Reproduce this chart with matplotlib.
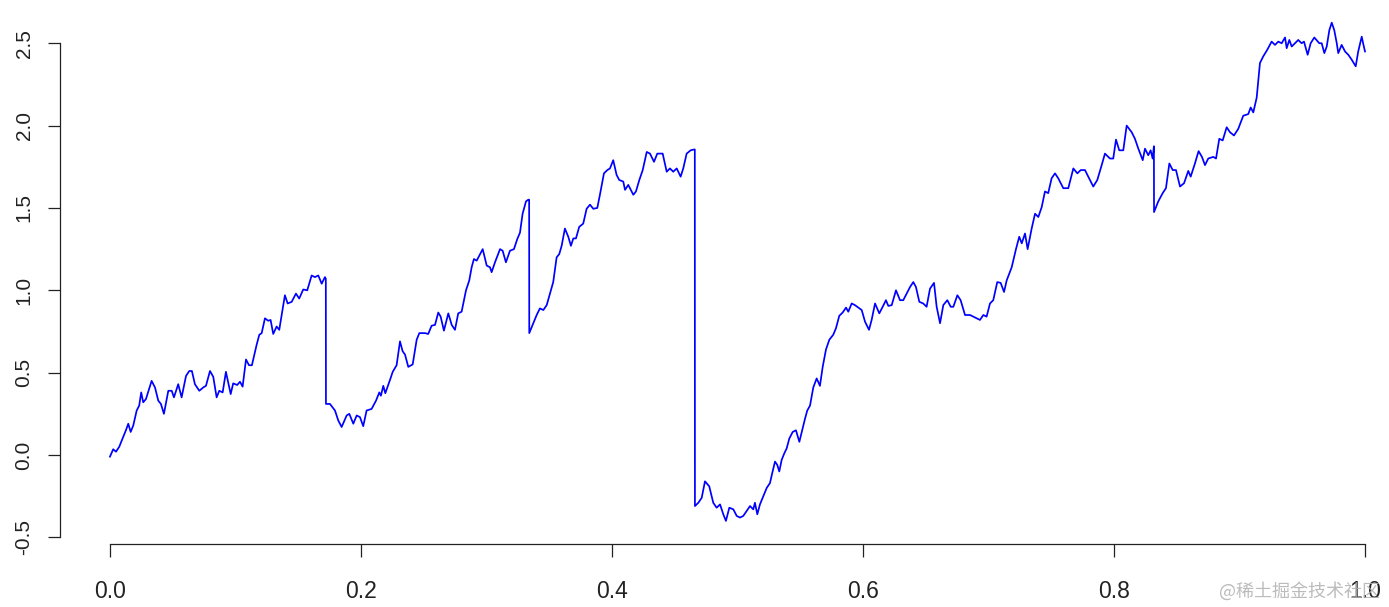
import matplotlib.pyplot as plt

t = [
    0.0000, 0.0026, 0.0048, 0.0074, 0.0106, 0.0127, 0.0146, 0.0165, 0.0186, 0.0213,
    0.0233, 0.0249, 0.0265, 0.0287, 0.0332, 0.0359, 0.0385, 0.0406, 0.0430, 0.0465,
    0.0492, 0.0510, 0.0544, 0.0571, 0.0606, 0.0632, 0.0653, 0.0677, 0.0712, 0.0743,
    0.0765, 0.0797, 0.0823, 0.0850, 0.0871, 0.0898, 0.0924, 0.0962, 0.0982, 0.1014,
    0.1036, 0.1057, 0.1084, 0.1108, 0.1131, 0.1169, 0.1190, 0.1209, 0.1235, 0.1261,
    0.1280, 0.1301, 0.1328, 0.1349, 0.1394, 0.1416, 0.1448, 0.1482, 0.1508, 0.1540,
    0.1572, 0.1607, 0.1633, 0.1660, 0.1687, 0.1713, 0.1720,
    0.1721, 0.1753, 0.1793, 0.1819, 0.1846, 0.1886, 0.1907, 0.1939, 0.1966, 0.1992,
    0.2018, 0.2045, 0.2085, 0.2120, 0.2146, 0.2159, 0.2178, 0.2194, 0.2231, 0.2253,
    0.2284, 0.2311, 0.2332, 0.2351, 0.2377, 0.2412, 0.2444, 0.2465, 0.2510, 0.2536,
    0.2563, 0.2590, 0.2616, 0.2635, 0.2661, 0.2696, 0.2723, 0.2749, 0.2775, 0.2802,
    0.2837, 0.2863, 0.2882, 0.2900, 0.2922, 0.2943, 0.2970, 0.3002, 0.3028, 0.3041,
    0.3068, 0.3108, 0.3129, 0.3155, 0.3187, 0.3219, 0.3245, 0.3267, 0.3288, 0.3315,
    0.3333, 0.3340,
    0.3341, 0.3373, 0.3400, 0.3426, 0.3453, 0.3480, 0.3506, 0.3532, 0.3559, 0.3580,
    0.3599, 0.3625, 0.3652, 0.3673, 0.3692, 0.3713, 0.3739, 0.3771, 0.3798, 0.3825,
    0.3851, 0.3883, 0.3904, 0.3936, 0.3963, 0.3984, 0.4010, 0.4037, 0.4058, 0.4090,
    0.4104, 0.4130, 0.4170, 0.4191, 0.4218, 0.4245, 0.4277, 0.4303, 0.4335, 0.4361,
    0.4404, 0.4436, 0.4462, 0.4488, 0.4516, 0.4547, 0.4568, 0.4595, 0.4627, 0.4653,
    0.4660,
    0.4661, 0.4688, 0.4715, 0.4741, 0.4775, 0.4807, 0.4834, 0.4861, 0.4887, 0.4908,
    0.4935, 0.4967, 0.4994, 0.5020, 0.5046, 0.5073, 0.5100, 0.5126, 0.5139, 0.5158,
    0.5179, 0.5206, 0.5233, 0.5259, 0.5280, 0.5299, 0.5317, 0.5333, 0.5352, 0.5373,
    0.5392, 0.5413, 0.5440, 0.5466, 0.5493, 0.5512, 0.5538, 0.5556, 0.5578, 0.5604,
    0.5631, 0.5657, 0.5679, 0.5705, 0.5732, 0.5763, 0.5785, 0.5811, 0.5838, 0.5865,
    0.5883, 0.5910, 0.5936, 0.5963, 0.5990, 0.6016, 0.6048, 0.6069, 0.6096, 0.6130,
    0.6157, 0.6183, 0.6202, 0.6229, 0.6263, 0.6295, 0.6321, 0.6348, 0.6375, 0.6401,
    0.6422, 0.6449, 0.6480, 0.6507, 0.6534, 0.6566, 0.6587, 0.6614, 0.6640, 0.6672,
    0.6699, 0.6720, 0.6752, 0.6778, 0.6813, 0.6853, 0.6892, 0.6932, 0.6959, 0.6985,
    0.7012, 0.7038, 0.7070, 0.7097, 0.7124, 0.7145, 0.7185, 0.7219, 0.7245, 0.7265,
    0.7291, 0.7312, 0.7344, 0.7371, 0.7397, 0.7424, 0.7450, 0.7476, 0.7503, 0.7530,
    0.7556, 0.7596, 0.7636, 0.7676, 0.7708, 0.7735, 0.7769, 0.7795, 0.7835, 0.7867,
    0.7902, 0.7928, 0.7968, 0.7994, 0.8016, 0.8042, 0.8074, 0.8101, 0.8141, 0.8167,
    0.8194, 0.8229, 0.8247, 0.8273, 0.8292, 0.8308, 0.8318,
    0.8319, 0.8353, 0.8388, 0.8414, 0.8441, 0.8468, 0.8494, 0.8526, 0.8558, 0.8592,
    0.8611, 0.8645, 0.8674, 0.8701, 0.8725, 0.8751, 0.8791, 0.8813, 0.8839, 0.8866,
    0.8898, 0.8924, 0.8956, 0.8990, 0.9030, 0.9070, 0.9089, 0.9110, 0.9137, 0.9163,
    0.9189, 0.9221, 0.9256, 0.9283, 0.9309, 0.9336, 0.9363, 0.9376, 0.9397, 0.9416,
    0.9442, 0.9468, 0.9495, 0.9514, 0.9543, 0.9567, 0.9596, 0.9636, 0.9655, 0.9676,
    0.9695, 0.9716, 0.9735, 0.9755, 0.9775, 0.9787, 0.9814, 0.9841, 0.9867, 0.9894,
    0.9926, 0.9946, 0.9974, 0.9985, 1.0000,
]

x = [
    -0.01, 0.035, 0.02, 0.05, 0.11, 0.15, 0.19, 0.14, 0.18, 0.27,
    0.30, 0.38, 0.32, 0.34, 0.45, 0.41, 0.33, 0.31, 0.25, 0.39,
    0.39, 0.35, 0.43, 0.35, 0.48, 0.51, 0.51, 0.43, 0.39, 0.41,
    0.42, 0.51, 0.475, 0.35, 0.39, 0.38, 0.505, 0.37, 0.435, 0.425,
    0.445, 0.415, 0.58, 0.545, 0.545, 0.67, 0.73, 0.74, 0.83, 0.815,
    0.82, 0.735, 0.78, 0.76, 0.97, 0.92, 0.93, 0.98, 0.95, 1.005,
    1.00, 1.09, 1.08, 1.09, 1.04, 1.08, 1.07,
    0.31, 0.31, 0.27, 0.21, 0.17, 0.24, 0.25, 0.19, 0.24, 0.23,
    0.175, 0.27, 0.28, 0.33, 0.38, 0.36, 0.42, 0.375, 0.455, 0.505,
    0.545, 0.69, 0.63, 0.61, 0.535, 0.55, 0.70, 0.74, 0.74, 0.735,
    0.785, 0.79, 0.865, 0.84, 0.755, 0.86, 0.79, 0.76, 0.86, 0.87,
    1.00, 1.06, 1.14, 1.19, 1.18, 1.21, 1.25, 1.15, 1.14, 1.11,
    1.17, 1.25, 1.24, 1.17, 1.24, 1.25, 1.31, 1.35, 1.465, 1.54,
    1.55, 1.55,
    0.74, 0.80, 0.85, 0.89, 0.88, 0.91, 0.98, 1.05, 1.20, 1.22,
    1.27, 1.375, 1.325, 1.27, 1.315, 1.315, 1.385, 1.405, 1.495, 1.52,
    1.495, 1.50, 1.58, 1.71, 1.73, 1.74, 1.79, 1.70, 1.67, 1.66,
    1.61, 1.64, 1.58, 1.60, 1.67, 1.73, 1.84, 1.83, 1.78, 1.83,
    1.83, 1.72, 1.74, 1.72, 1.74, 1.69, 1.74, 1.83, 1.85, 1.855,
    1.855,
    -0.31, -0.29, -0.26, -0.16, -0.19, -0.29, -0.32, -0.30, -0.36, -0.40,
    -0.32, -0.33, -0.37, -0.38, -0.37, -0.34, -0.31, -0.33, -0.29, -0.36,
    -0.30, -0.25, -0.20, -0.17, -0.10, -0.04, -0.06, -0.10, -0.03, 0.01,
    0.04, 0.10, 0.14, 0.15, 0.08, 0.14, 0.22, 0.27, 0.30, 0.41,
    0.465, 0.42, 0.535, 0.64, 0.70, 0.73, 0.77, 0.845, 0.865, 0.895,
    0.87, 0.92, 0.91, 0.895, 0.88, 0.81, 0.76, 0.82, 0.92, 0.86,
    0.90, 0.94, 0.905, 0.91, 1.00, 0.94, 0.94, 0.98, 1.02, 1.05,
    1.02, 0.93, 0.92, 0.90, 1.01, 1.045, 0.90, 0.80, 0.91, 0.94,
    0.90, 0.90, 0.97, 0.94, 0.85, 0.85, 0.835, 0.82, 0.85, 0.84,
    0.92, 0.94, 1.05, 1.045, 0.99, 1.06, 1.14, 1.25, 1.325, 1.285,
    1.345, 1.25, 1.375, 1.465, 1.445, 1.505, 1.60, 1.59, 1.68, 1.71,
    1.68, 1.62, 1.62, 1.74, 1.71, 1.73, 1.73, 1.69, 1.63, 1.67,
    1.76, 1.83, 1.80, 1.80, 1.915, 1.85, 1.85, 2.00, 1.96, 1.92,
    1.86, 1.79, 1.86, 1.82, 1.85, 1.80, 1.875,
    1.475, 1.54, 1.59, 1.62, 1.77, 1.73, 1.73, 1.63, 1.65, 1.725,
    1.69, 1.77, 1.845, 1.81, 1.76, 1.80, 1.81, 1.80, 1.92, 1.91,
    1.99, 1.96, 1.94, 1.98, 2.06, 2.07, 2.11, 2.08, 2.17, 2.38,
    2.42, 2.46, 2.51, 2.49, 2.51, 2.50, 2.535, 2.47, 2.52, 2.48,
    2.50, 2.52, 2.50, 2.51, 2.43, 2.50, 2.535, 2.50, 2.50, 2.44,
    2.48, 2.58, 2.625, 2.58, 2.50, 2.44, 2.49, 2.45, 2.43, 2.40,
    2.36, 2.45, 2.54, 2.50, 2.45,
]

x_ticks = [0.0, 0.2, 0.4, 0.6, 0.8, 1.0]
y_ticks = [-0.5, 0.0, 0.5, 1.0, 1.5, 2.0, 2.5]

W, H = 1389, 607
fig = plt.figure(figsize=(W / 100, H / 100), dpi=100)
plt.rcParams['font.family'] = ['Liberation Sans', 'DejaVu Sans']

# plot region in pixels: left 60, right edge of image, top 3, bottom 541
ax = fig.add_axes([60 / W, (H - 541) / H, (W - 60) / W, (541 - 3) / H])
ax.plot(t, x, color='#0000ff', lw=1.25)

ax.set_xlim(-0.0398, (W - 110) / 1255)
ax.set_ylim(-(541 - 455) / 164.7, (455 - 3) / 164.7)

for s in ['top', 'right']:
    ax.spines[s].set_visible(False)
ax.spines['left'].set_bounds(-0.5, 2.5)
ax.spines['bottom'].set_bounds(0, 1)
ax.spines['bottom'].set_position(('outward', 2))
for s in ['left', 'bottom']:
    ax.spines[s].set_color('#222222')
    ax.spines[s].set_linewidth(0.9)

ax.set_xticks(x_ticks)
ax.set_xticklabels([f'{v:.1f}' for v in x_ticks], fontsize=16.5, color='#222222')
ax.set_yticks(y_ticks)
ax.set_yticklabels([f'{v:.1f}' for v in y_ticks], fontsize=15, color='#222222',
                   rotation=90, va='center')
ax.tick_params(axis='x', length=9, width=0.9, color='#222222', pad=17)
ax.tick_params(axis='y', length=9, width=0.9, color='#222222', pad=10)

fig.text(1300 / W, 1 - 591 / H, '@稀土掘金技术社区', ha='center', va='center',
         fontsize=13, color='#b0b0b0', alpha=0.85,
         family=['Noto Sans CJK SC', 'DejaVu Sans'])

fig.savefig('out.png', dpi=100)
